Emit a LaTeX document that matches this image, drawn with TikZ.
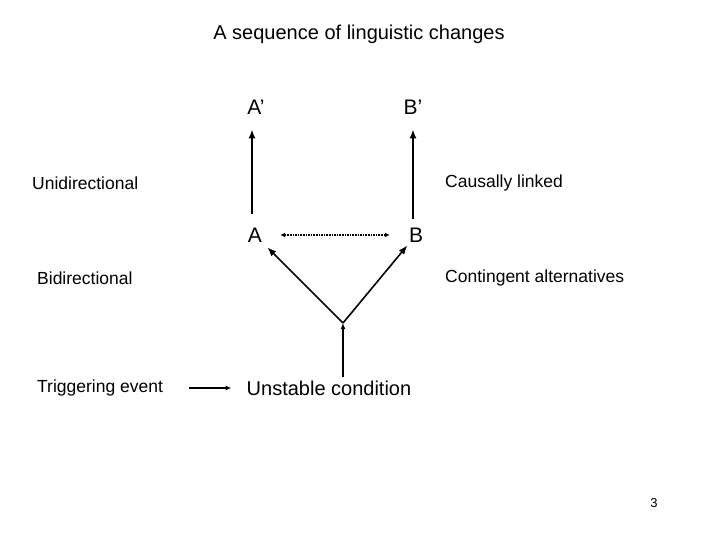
\documentclass[tikz,border=0pt]{standalone}
\usepackage{fontspec}
\setmainfont{Liberation Sans}
\usepackage{tikz}
\usetikzlibrary{arrows.meta,calc}

\begin{document}
\begin{tikzpicture}[
  x=1pt, y=-1pt,
  title/.style={font=\fontsize{20}{22}\selectfont, inner sep=2pt},
  letter/.style={font=\fontsize{21}{23}\selectfont, inner sep=3pt},
  sidelabel/.style={font=\fontsize{17.5}{19}\selectfont, anchor=west, inner sep=0pt},
  arrow/.style={-{Latex[length=9pt,width=7pt]}, line width=1.6pt},
  smallarrow/.style={-{Latex[length=6pt,width=5pt]}, line width=1.6pt},
  dotarrow/.style={{Latex[length=5pt,width=5pt]}-{Latex[length=5pt,width=5pt]}, line width=1.6pt, densely dotted}
]
\useasboundingbox (0,0) rectangle (720,540);

% Title
\node[title] (title) at (359, 34) {A sequence of linguistic changes};

% Outcomes and alternatives
\node[letter] (Ap) at (256, 107) {A’};
\node[letter] (Bp) at (413, 107) {B’};
\node[letter] (A) at (255, 235) {A};
\node[letter] (B) at (416, 235) {B};

% Starting condition
\node[letter, font=\fontsize{20}{22}\selectfont] (U) at (329, 388) {Unstable condition};
\node[sidelabel] (T) at (37, 388) {Triggering event};
\coordinate (J) at (343, 323);

% Side labels
\node[sidelabel] (uni) at (32, 183) {Unidirectional};
\node[sidelabel] (caus) at (445, 183) {Causally linked};
\node[sidelabel] (bi) at (37, 278) {Bidirectional};
\node[sidelabel] (cont) at (445, 278) {Contingent alternatives};

% Page number
\node[font=\fontsize{13}{15}\selectfont] (page) at (654, 503) {3};

% Connections
\draw[arrow, shorten <=11pt, shorten >=12pt] (A.north -| 252,0) -- (Ap.south -| 252,0);
\draw[arrow, shorten <=6pt, shorten >=12pt] (B.north -| 413,0) -- (Bp.south -| 413,0);
\draw[dotarrow, shorten <=15pt, shorten >=16pt] (A) -- (B);
\draw[arrow, shorten >=3pt] (J) -- (A);
\draw[arrow] (J) -- (B);
\draw[smallarrow] (U.north -| J) -- (J);
\draw[smallarrow, shorten <=26pt, shorten >=12pt] (T) -- (U);

\end{tikzpicture}
\end{document}
